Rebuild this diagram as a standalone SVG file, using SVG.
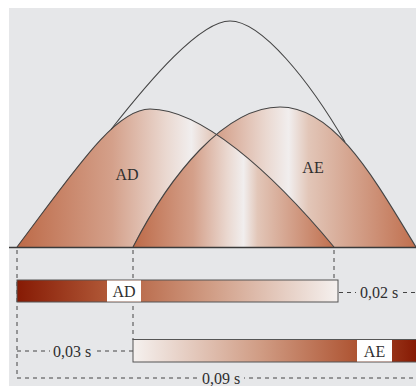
<svg xmlns="http://www.w3.org/2000/svg" width="416" height="386" viewBox="0 0 416 386">
<style>
.txt{font-family:"Liberation Serif","Times New Roman",serif;font-size:16px;fill:#2e2e2e;text-anchor:middle}
.outline{fill:none;stroke:#444;stroke-width:1.1}
.dash{fill:none;stroke:#444;stroke-width:1;stroke-dasharray:4 4}
.bar{stroke:#555;stroke-width:1}
</style>
<defs>
<linearGradient id="hump" x1="0" y1="0" x2="1" y2="0">
<stop offset="0" stop-color="#bd6a48"/>
<stop offset="0.3" stop-color="#d4a08a"/>
<stop offset="0.47" stop-color="#ead8d0"/>
<stop offset="0.55" stop-color="#f1eeee"/>
<stop offset="0.62" stop-color="#e2c6b8"/>
<stop offset="1" stop-color="#c06f4e"/>
</linearGradient>
<linearGradient id="gAD" href="#hump" gradientUnits="userSpaceOnUse" x1="17" y1="0" x2="334" y2="0"/>
<linearGradient id="gAE" href="#hump" gradientUnits="userSpaceOnUse" x1="133" y1="0" x2="416" y2="0"/>
<linearGradient id="gOV" href="#hump" gradientUnits="userSpaceOnUse" x1="133" y1="0" x2="334" y2="0"/>
<linearGradient id="barAD" gradientUnits="userSpaceOnUse" x1="17" y1="0" x2="338" y2="0">
<stop offset="0" stop-color="#861a04"/>
<stop offset="0.3" stop-color="#b35c3a"/>
<stop offset="0.6" stop-color="#d09c84"/>
<stop offset="1" stop-color="#f5f1ef"/>
</linearGradient>
<linearGradient id="barAE" gradientUnits="userSpaceOnUse" x1="133" y1="0" x2="416" y2="0">
<stop offset="0" stop-color="#f5f1ef"/>
<stop offset="0.45" stop-color="#d09c84"/>
<stop offset="0.8" stop-color="#ad5230"/>
<stop offset="1" stop-color="#861a04"/>
</linearGradient>
<clipPath id="clipAD">
<path d="M17,247 C75,170 115,109 150,109 C200,109 270,170 334,247 Z"/>
</clipPath>
</defs>
<rect x="9" y="8" width="407" height="378" fill="#e6e7e9"/>
<g id="hump-AD">
<path d="M17,247 C75,170 115,109 150,109 C200,109 270,170 334,247 Z" fill="url(#gAD)"/>
</g>
<g id="hump-AE">
<path d="M133,247 C170,175 225,107 280,107 C335,107 375,180 416,247 Z" fill="url(#gAE)"/>
<path d="M133,247 C170,175 225,107 280,107 C335,107 375,180 416,247 Z" fill="url(#gOV)" clip-path="url(#clipAD)"/>
</g>
<g id="outlines">
<path class="outline" d="M17,247 C75,170 115,109 150,109 C200,109 270,170 334,247"/>
<path class="outline" d="M133,247 C170,175 225,107 280,107 C335,107 375,180 416,247"/>
<path class="outline" d="M111,129.5 C150,80 200,21 230,21 C262,21 310,82 345,142"/>
<line x1="9" y1="247.5" x2="416" y2="247.5" stroke="#3a3a3a" stroke-width="1.6"/>
</g>
<text class="txt" x="127" y="180">AD</text>
<text class="txt" x="313" y="173">AE</text>
<g id="connectors">
<line class="dash" x1="17" y1="250" x2="17" y2="378"/>
<line class="dash" x1="133" y1="250" x2="133" y2="340"/>
<line class="dash" x1="334" y1="250" x2="334" y2="280"/>
<line class="dash" x1="17" y1="378" x2="416" y2="378"/>
<line class="dash" x1="17" y1="351" x2="133" y2="351"/>
<line class="dash" x1="339" y1="292.5" x2="416" y2="292.5"/>
</g>
<g id="bar-AD">
<rect class="bar" x="17" y="280" width="321" height="22" fill="url(#barAD)"/>
<rect x="107" y="280.5" width="34" height="21" fill="#ffffff"/>
<text class="txt" x="124" y="297">AD</text>
</g>
<g id="bar-AE">
<rect class="bar" x="133" y="339.5" width="290" height="22.5" fill="url(#barAE)"/>
<rect x="357" y="340" width="35" height="21.5" fill="#ffffff"/>
<text class="txt" x="374.5" y="357">AE</text>
</g>
<g id="labels">
<rect x="356" y="284" width="45" height="17" fill="#e6e7e9"/>
<text class="txt" x="379" y="298">0,02 s</text>
<rect x="50" y="343" width="45" height="17" fill="#e6e7e9"/>
<text class="txt" x="72" y="357">0,03 s</text>
<rect x="199" y="370" width="45" height="16" fill="#e6e7e9"/>
<text class="txt" x="221" y="384">0,09 s</text>
</g>
</svg>
